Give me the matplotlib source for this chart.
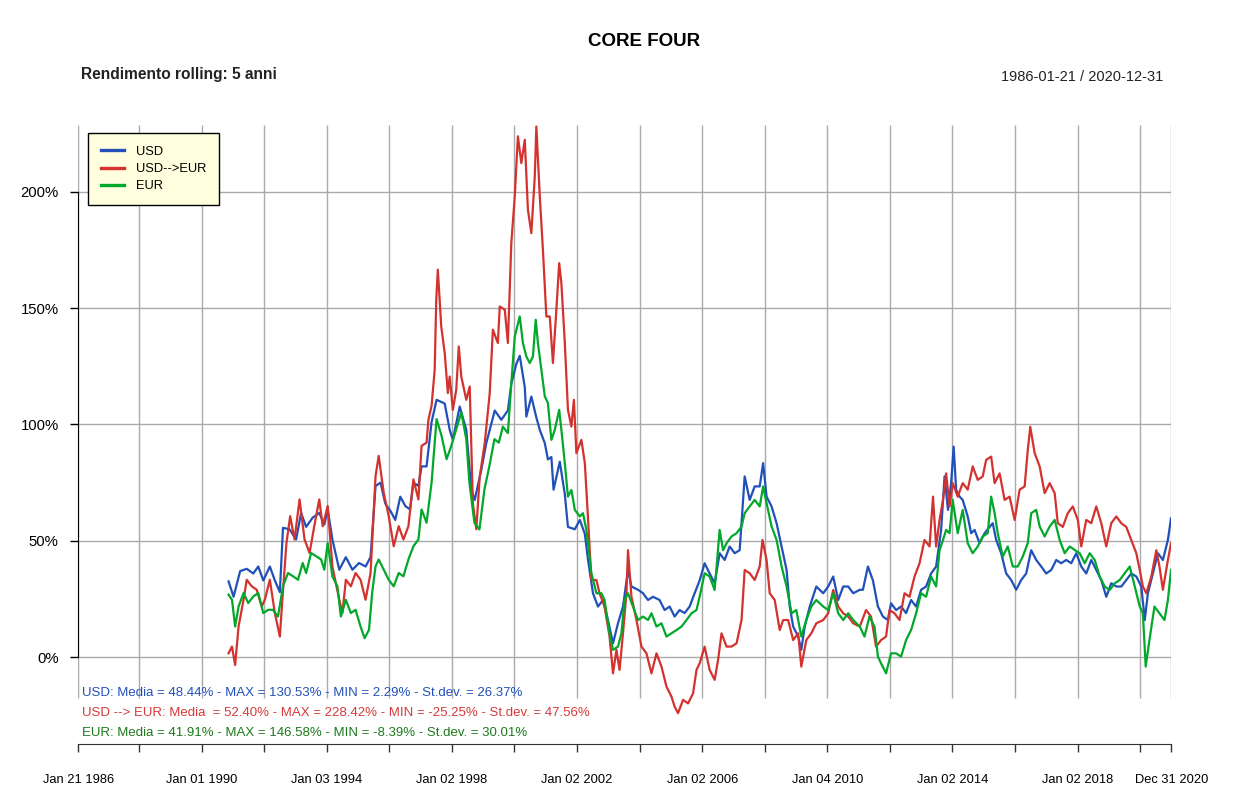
import matplotlib
matplotlib.use("Agg")
import matplotlib.pyplot as plt
from matplotlib.lines import Line2D

plt.rcParams['font.family'] = ['Liberation Sans', 'DejaVu Sans']

# rolling 5y returns (%), time as decimal year
t_usd = [1990.86, 1991.02, 1991.23, 1991.44, 1991.65, 1991.81, 1991.97, 1992.18, 1992.34, 1992.50,
         1992.60, 1992.81, 1993.02, 1993.18, 1993.34, 1993.55, 1993.76, 1993.92, 1994.03, 1994.18,
         1994.40, 1994.61, 1994.82, 1995.03, 1995.24, 1995.40, 1995.56, 1995.72, 1995.87, 1996.03,
         1996.19, 1996.35, 1996.51, 1996.66, 1996.77, 1996.93, 1997.03, 1997.19, 1997.35, 1997.51,
         1997.77, 1997.93, 1998.03, 1998.25, 1998.46, 1998.62, 1998.73, 1998.94, 1999.10, 1999.37,
         1999.58, 1999.79, 1999.90, 2000.06, 2000.17, 2000.33, 2000.38, 2000.54, 2000.70, 2000.81,
         2000.97, 2001.07, 2001.18, 2001.25, 2001.45, 2001.61, 2001.71, 2001.93, 2002.09, 2002.25,
         2002.35, 2002.51, 2002.67, 2002.83, 2002.99, 2003.15, 2003.31, 2003.47, 2003.63, 2003.74,
         2003.95, 2004.11, 2004.27, 2004.43, 2004.64, 2004.80, 2004.96, 2005.12, 2005.28, 2005.44,
         2005.60, 2005.76, 2005.92, 2006.08, 2006.24, 2006.40, 2006.56, 2006.72, 2006.88, 2007.04,
         2007.20, 2007.36, 2007.52, 2007.68, 2007.84, 2007.95, 2008.06, 2008.22, 2008.38, 2008.54,
         2008.70, 2008.80, 2008.91, 2009.07, 2009.17, 2009.28, 2009.44, 2009.65, 2009.87, 2010.03,
         2010.19, 2010.35, 2010.51, 2010.67, 2010.83, 2011.04, 2011.14, 2011.30, 2011.46, 2011.62,
         2011.78, 2011.94, 2012.04, 2012.20, 2012.36, 2012.52, 2012.68, 2012.84, 2013.00, 2013.16,
         2013.32, 2013.48, 2013.64, 2013.75, 2013.86, 2013.96, 2014.04, 2014.12, 2014.23, 2014.33,
         2014.49, 2014.60, 2014.71, 2014.87, 2015.03, 2015.19, 2015.29, 2015.40, 2015.56, 2015.72,
         2015.88, 2016.04, 2016.20, 2016.36, 2016.52, 2016.68, 2016.84, 2017.00, 2017.16, 2017.32,
         2017.48, 2017.64, 2017.80, 2017.96, 2018.12, 2018.28, 2018.44, 2018.60, 2018.76, 2018.92,
         2019.08, 2019.24, 2019.40, 2019.56, 2019.72, 2019.88, 2020.04, 2020.15, 2020.25, 2020.41,
         2020.57, 2020.73, 2020.89, 2020.99]
v_usd = [32.6, 26, 37, 38, 36, 39, 33, 39, 33, 28,
         55.6, 55, 50.6, 62, 56, 60, 62, 57, 63.5, 50.6,
         37.6, 43, 37.6, 40.5, 39, 43, 73.6, 75, 66, 63,
         59, 69, 65, 63.5, 75, 73.6, 82, 82, 101, 110.6,
         109, 97.7, 93.4, 107.7, 97.7, 72, 67.6, 80.5, 92, 106,
         102, 106, 117.5, 126, 129.5, 116, 103.4, 112, 103, 97.7,
         92, 85, 86, 72, 84, 70, 56, 55, 59, 53,
         42, 27.5, 21.8, 24.6, 16, 6, 14.6, 21.8, 37.5, 30.4,
         29, 27.5, 24.6, 26, 24.6, 20.3, 21.8, 17.5, 20.3, 19,
         21.8, 27.5, 33, 40.4, 36, 31.8, 44.7, 41.8, 47.6, 44.7,
         46, 77.7, 67.6, 73.4, 73.4, 83.4, 69, 64.8, 57.6, 47.6,
         37.5, 21.8, 13.2, 8.9, 3.2, 13.2, 21.8, 30.4, 27.5, 30.4,
         34.7, 24.6, 30.4, 30.4, 27.5, 29, 29, 39, 33, 21.8,
         17.5, 16, 23.2, 20.3, 21.8, 19, 24.6, 21.8, 29, 30.4,
         36, 39, 54.7, 77.7, 63.3, 74.8, 90.5, 72, 69, 67.6,
         60.5, 53.3, 54.7, 49, 53.3, 56, 57.6, 50.4, 44.7, 36,
         33.2, 29, 33.2, 36, 46, 41.8, 39, 36, 37.5, 41.8,
         40.4, 41.8, 40.4, 44.7, 39, 36, 41.8, 37.5, 33.2, 26,
         31.8, 30.4, 30.4, 33.2, 36, 34.7, 30.4, 16, 27.5, 36,
         44.7, 41.8, 50.4, 59.7]

t_eur_conv = [1990.86, 1990.97, 1991.07, 1991.18, 1991.34, 1991.44, 1991.60, 1991.76, 1991.92, 1992.02,
              1992.18, 1992.34, 1992.50, 1992.58, 1992.71, 1992.83, 1992.97, 1993.13, 1993.29, 1993.45,
              1993.60, 1993.76, 1993.87, 1994.03, 1994.18, 1994.40, 1994.50, 1994.61, 1994.77, 1994.92,
              1995.08, 1995.24, 1995.40, 1995.56, 1995.66, 1995.82, 1995.98, 1996.14, 1996.30, 1996.45,
              1996.61, 1996.77, 1996.93, 1997.03, 1997.19, 1997.25, 1997.35, 1997.45, 1997.50, 1997.55,
              1997.66, 1997.77, 1997.87, 1997.93, 1998.03, 1998.14, 1998.22, 1998.30, 1998.46, 1998.57,
              1998.67, 1998.78, 1998.89, 1999.05, 1999.21, 1999.31, 1999.47, 1999.53, 1999.69, 1999.79,
              1999.90, 2000.01, 2000.11, 2000.22, 2000.33, 2000.43, 2000.54, 2000.65, 2000.70, 2000.81,
              2000.91, 2001.02, 2001.13, 2001.23, 2001.34, 2001.43, 2001.50, 2001.61, 2001.71, 2001.82,
              2001.90, 2001.98, 2002.14, 2002.25, 2002.35, 2002.46, 2002.62, 2002.72, 2002.88, 2003.04,
              2003.15, 2003.26, 2003.36, 2003.47, 2003.58, 2003.63, 2003.74, 2003.90, 2004.06, 2004.22,
              2004.38, 2004.54, 2004.70, 2004.86, 2005.02, 2005.12, 2005.23, 2005.39, 2005.55, 2005.71,
              2005.82, 2005.92, 2006.08, 2006.24, 2006.40, 2006.51, 2006.62, 2006.78, 2006.94, 2007.10,
              2007.26, 2007.36, 2007.52, 2007.68, 2007.84, 2007.93, 2008.06, 2008.16, 2008.32, 2008.48,
              2008.59, 2008.75, 2008.91, 2009.07, 2009.17, 2009.33, 2009.49, 2009.65, 2009.87, 2010.03,
              2010.19, 2010.35, 2010.51, 2010.67, 2010.83, 2011.04, 2011.24, 2011.40, 2011.56, 2011.72,
              2011.88, 2011.99, 2012.15, 2012.31, 2012.47, 2012.63, 2012.79, 2012.95, 2013.11, 2013.27,
              2013.38, 2013.48, 2013.59, 2013.70, 2013.80, 2013.91, 2014.01, 2014.17, 2014.33, 2014.49,
              2014.65, 2014.81, 2014.97, 2015.08, 2015.24, 2015.35, 2015.51, 2015.67, 2015.83, 2015.99,
              2016.15, 2016.31, 2016.41, 2016.49, 2016.63, 2016.79, 2016.95, 2017.11, 2017.27, 2017.37,
              2017.53, 2017.69, 2017.85, 2018.01, 2018.12, 2018.28, 2018.44, 2018.60, 2018.76, 2018.92,
              2019.08, 2019.24, 2019.40, 2019.56, 2019.72, 2019.88, 2019.99, 2020.09, 2020.20, 2020.36,
              2020.52, 2020.62, 2020.73, 2020.89, 2020.99]
v_eur_conv = [1.7, 4.6, -3.3, 13.2, 24.7, 33.3, 30.5, 29, 21.8, 24.7,
              33.3, 19, 8.9, 24.7, 49, 60.6, 50.6, 67.8, 50.6, 44.8,
              56.3, 67.8, 56.3, 65, 39, 24.7, 19, 33.3, 30.5, 36.2,
              33.3, 24.7, 36.2, 77.9, 86.5, 70.7, 60.6, 47.7, 56.3, 50.6,
              56.3, 76.4, 67.8, 90.8, 92.2, 102, 108, 123.5, 153.6, 166.5,
              142, 130.7, 113.5, 120.6, 106.3, 115, 133.5, 120.6, 110.6, 116.3,
              66.2, 55, 77.6, 92, 113.5, 140.7, 135, 150.7, 149.3, 135,
              178, 198, 223.8, 212.3, 222.3, 192.3, 182.2, 206.6, 228, 198,
              175, 146.4, 146.4, 126.4, 149.3, 169.3, 160.7, 135, 106.3, 99.1,
              110.6, 87.7, 93.4, 83.4, 60, 33.2, 33.2, 27.5, 21.8, 8.9,
              -6.9, 3.2, -5.4, 10.3, 27.5, 46, 26, 16, 4.6, 1.7,
              -6.9, 1.7, -4, -12.6, -16.9, -21.2, -24, -18.3, -19.8, -15.5,
              -5.4, -2.6, 4.6, -5.4, -9.7, -1.1, 10.3, 4.6, 4.6, 6,
              16, 37.5, 36.1, 33.2, 39, 50.4, 41.8, 27.5, 24.6, 11.7,
              16, 16, 7.4, 10.3, -4, 7.4, 10.3, 14.6, 16, 18.9,
              28.9, 21.8, 18.9, 17.5, 14.6, 13.2, 20.3, 17.5, 4.6, 7.4,
              8.9, 20.3, 18.9, 16, 27.5, 26, 34.7, 40.4, 50.4, 47.6,
              69, 47.6, 59, 67.6, 79, 64.8, 74.8, 69, 74.8, 72,
              82, 76.2, 77.7, 84.8, 86.2, 74.8, 79, 67.6, 69, 59,
              72, 73.4, 89, 99, 87.7, 82, 70.5, 74.8, 70.5, 57.6,
              56, 61.9, 64.8, 59, 47.6, 59, 57.6, 64.8, 57.6, 47.6,
              57.6, 60.5, 57.6, 56, 50.4, 44.7, 37.5, 30.4, 27.5, 34.7,
              46, 39, 29, 41.8, 49]

t_eur = [1990.86, 1990.97, 1991.07, 1991.18, 1991.34, 1991.49, 1991.65, 1991.81, 1991.97, 1992.13,
         1992.28, 1992.44, 1992.60, 1992.76, 1992.92, 1993.08, 1993.23, 1993.34, 1993.50, 1993.66,
         1993.82, 1993.92, 1994.03, 1994.18, 1994.34, 1994.45, 1994.61, 1994.77, 1994.92, 1995.08,
         1995.21, 1995.35, 1995.45, 1995.56, 1995.66, 1995.82, 1995.98, 1996.14, 1996.30, 1996.45,
         1996.61, 1996.77, 1996.93, 1997.03, 1997.19, 1997.35, 1997.51, 1997.67, 1997.83, 1997.98,
         1998.14, 1998.30, 1998.46, 1998.56, 1998.72, 1998.88, 1999.04, 1999.20, 1999.36, 1999.50,
         1999.63, 1999.79, 1999.90, 2000.01, 2000.17, 2000.27, 2000.38, 2000.49, 2000.59, 2000.68,
         2000.75, 2000.86, 2000.97, 2001.07, 2001.18, 2001.29, 2001.43, 2001.50, 2001.61, 2001.71,
         2001.82, 2001.93, 2002.09, 2002.19, 2002.30, 2002.46, 2002.62, 2002.78, 2002.88, 2003.04,
         2003.15, 2003.31, 2003.42, 2003.52, 2003.63, 2003.79, 2003.95, 2004.11, 2004.27, 2004.38,
         2004.54, 2004.70, 2004.86, 2005.02, 2005.18, 2005.34, 2005.50, 2005.66, 2005.82, 2005.92,
         2006.08, 2006.24, 2006.40, 2006.56, 2006.67, 2006.78, 2006.94, 2007.10, 2007.26, 2007.36,
         2007.52, 2007.68, 2007.84, 2007.95, 2008.06, 2008.22, 2008.38, 2008.54, 2008.70, 2008.86,
         2009.01, 2009.17, 2009.33, 2009.49, 2009.65, 2009.87, 2010.03, 2010.19, 2010.35, 2010.51,
         2010.67, 2010.83, 2011.04, 2011.19, 2011.35, 2011.51, 2011.62, 2011.72, 2011.88, 2012.04,
         2012.20, 2012.36, 2012.52, 2012.68, 2012.84, 2013.00, 2013.16, 2013.32, 2013.48, 2013.59,
         2013.70, 2013.80, 2013.91, 2014.01, 2014.17, 2014.33, 2014.49, 2014.65, 2014.81, 2014.97,
         2015.13, 2015.24, 2015.35, 2015.45, 2015.61, 2015.77, 2015.93, 2016.09, 2016.25, 2016.41,
         2016.52, 2016.68, 2016.79, 2016.95, 2017.11, 2017.27, 2017.43, 2017.59, 2017.75, 2017.91,
         2018.07, 2018.23, 2018.39, 2018.55, 2018.71, 2018.87, 2019.03, 2019.19, 2019.35, 2019.51,
         2019.67, 2019.83, 2019.99, 2020.09, 2020.18, 2020.30, 2020.46, 2020.62, 2020.78, 2020.89,
         2020.99]
v_eur = [26.9, 24.7, 13.2, 21.8, 27.6, 23.3, 26.1, 27.6, 19, 20.4,
         20.4, 17.5, 30.5, 36.2, 34.8, 33.3, 40.5, 36.2, 44.8, 43.4,
         42, 37.6, 49.1, 34.8, 30.5, 17.5, 24.7, 19, 20.4, 13.2,
         8.2, 11.8, 27.6, 39.1, 42, 37.6, 33.3, 30.5, 36.2, 34.8,
         42, 47.7, 50.6, 63.5, 57.8, 75, 102.3, 95.1, 85.1, 90.8,
         98, 105.2, 93.7, 75, 57.8, 54.9, 72.1, 82.2, 93.7, 92.2,
         99.1, 96.3, 117.8, 137.8, 146.4, 135, 129.2, 126.4, 129.2, 145,
         135, 123.5, 112.1, 109.2, 93.4, 97.7, 106.3, 97.7, 83.4, 69,
         71.9, 63.3, 60.5, 61.9, 54.7, 36.1, 27.5, 27.5, 24.6, 10.3,
         3.2, 4.6, 10.3, 24.6, 27.5, 21.8, 16, 17.5, 16, 18.9,
         13.2, 14.6, 8.9, 10.3, 11.7, 13.2, 16, 18.9, 20.3, 26,
         36.1, 34.7, 28.9, 54.7, 46, 49, 51.9, 53.3, 56.2, 61.9,
         64.8, 67.6, 64.8, 73.4, 66.2, 56.2, 50.4, 39, 30.4, 18.9,
         20.3, 8.9, 16, 21.8, 24.6, 21.8, 20.3, 27.5, 18.9, 16,
         18.9, 16, 13.2, 8.9, 17.5, 13.2, 0.3, -2.6, -6.9, 1.7,
         1.7, 0.3, 7.4, 11.7, 18.9, 27.5, 26, 34.7, 30.4, 46,
         50.4, 54.7, 53.3, 67.6, 53.3, 63.3, 49, 44.7, 47.6, 51.9,
         53.3, 69, 61.9, 53.3, 43.3, 47.6, 39, 39, 43.3, 49,
         61.9, 63.3, 56.2, 51.9, 56.2, 59, 50.4, 44.7, 47.6, 46.1,
         44.7, 40.4, 44.7, 41.8, 34.7, 30.4, 28.9, 31.8, 33.2, 36.1,
         39, 30.4, 21.8, 18.9, -4, 7.4, 21.8, 18.9, 16, 24.6,
         37.5]

names = ['USD', 'USD-->EUR', 'EUR']
colors = ['#2150B8', '#D3322E', '#02A82A']
stats = ['USD: Media = 48.44% - MAX = 130.53% - MIN = 2.29% - St.dev. = 26.37%',
         'USD --> EUR: Media  = 52.40% - MAX = 228.42% - MIN = -25.25% - St.dev. = 47.56%',
         'EUR: Media = 41.91% - MAX = 146.58% - MIN = -8.39% - St.dev. = 30.01%']
stat_colors = ['#2150B8', '#D63A3A', '#1C7A1C']

x_start, x_end = 1986.055, 2020.997
grid_years = [x_start] + list(range(1988, 2021, 2)) + [x_end]
tick_labels = {x_start: 'Jan 21 1986', 1990: 'Jan 01 1990', 1994: 'Jan 03 1994',
               1998: 'Jan 02 1998', 2002: 'Jan 02 2002', 2006: 'Jan 02 2006',
               2010: 'Jan 04 2010', 2014: 'Jan 02 2014', 2018: 'Jan 02 2018',
               x_end: 'Dec 31 2020'}
y_ticks = [0, 50, 100, 150, 200]

fig = plt.figure(figsize=(12.5, 7.96), dpi=100)
ax = fig.add_axes([0.0626, 0.0647, 0.8744, 0.7783])
ax.set_xlim(x_start, x_end)
ax.set_ylim(-37.46, 228.65)

grid_c = '#AAAAAA'
for y in y_ticks:
    ax.axhline(y, color=grid_c, lw=1, zorder=1)
ax.vlines(grid_years, -17.6, 228.65, color=grid_c, lw=1, zorder=1)

ax.plot(t_usd, v_usd, color=colors[0], lw=1.6, zorder=3)
ax.plot(t_eur_conv, v_eur_conv, color=colors[1], lw=1.6, zorder=3)
ax.plot(t_eur, v_eur, color=colors[2], lw=1.6, zorder=3)

for s in ['top', 'right']:
    ax.spines[s].set_visible(False)
ax.spines['left'].set_bounds(0, 200)
ax.spines['left'].set_color('black')
ax.spines['bottom'].set_color('#333333')
ax.spines['left'].set_zorder(4)

ax.set_yticks(y_ticks)
ax.set_yticklabels([f'{y}%' for y in y_ticks])
ax.tick_params(axis='y', length=6, width=1, pad=8, labelsize=10.7)
ax.set_xticks(grid_years)
ax.set_xticklabels([tick_labels.get(g, '') for g in grid_years])
ax.tick_params(axis='x', length=6, width=1, pad=15, labelsize=9.3, color='#333333')

handles = [Line2D([], [], color=c, lw=2.4) for c in colors]
leg = ax.legend(handles, names, loc='upper left', bbox_to_anchor=(88 / 1250, 1 - 133 / 796),
                bbox_transform=fig.transFigure, borderaxespad=0, fontsize=9.3,
                frameon=True, fancybox=False, facecolor='#FFFFE0', edgecolor='black',
                framealpha=1, handlelength=1.8, handletextpad=0.9, labelspacing=0.4,
                borderpad=1.0)
leg.get_frame().set_linewidth(1)
leg.set_zorder(5)

for i, (txt, c) in enumerate(zip(stats, stat_colors)):
    fig.text(82 / 1250, 1 - (693 + i * 20) / 796, txt, color=c, fontsize=9.5,
             ha='left', va='center')

fig.text(644 / 1250, 1 - 41 / 796, 'CORE FOUR', fontsize=13.5, fontweight='bold',
         ha='center', va='center')
fig.text(81 / 1250, 1 - 74 / 796, 'Rendimento rolling: 5 anni', fontsize=11.2,
         fontweight='bold', color='#222222', ha='left', va='center')
fig.text(1163 / 1250, 1 - 77 / 796, '1986-01-21 / 2020-12-31', fontsize=10.5,
         color='#222222', ha='right', va='center')

fig.savefig('out.png', dpi=100)
